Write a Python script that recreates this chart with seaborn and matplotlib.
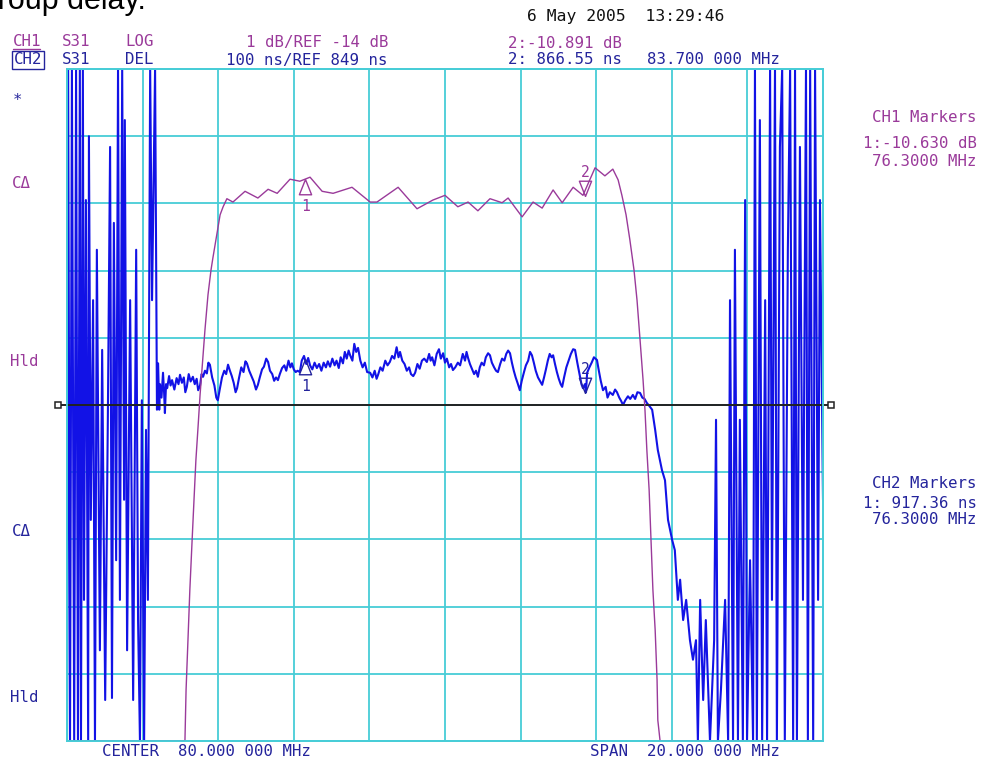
import numpy as np
import matplotlib
matplotlib.use("Agg")
import matplotlib.pyplot as plt
from matplotlib.lines import Line2D
from matplotlib.transforms import blended_transform_factory
import seaborn as sns

# ── 0. SETUP ────────────────────────────────────────────────
sns.set_style("white")
plt.rcParams["font.family"] = ["DejaVu Sans Mono"]

CYAN = "#47cdd7"
PURPLE = "#9a3a9a"
BLUE = "#1212e6"
NAVY = "#24249c"
W, H = 982, 760
FS = 11.3

# ── 1. DATA ─────────────────────────────────────────────────
center_mhz, span_mhz = 80.0, 20.0
ch1_ref_db, ch1_div_db = -14.0, 1.0
ch2_ref_ns, ch2_div_ns = 849.0, 100.0

# CH1  S31 LOG magnitude (dB)
ch1_freq = [70.00, 73.12, 73.15, 73.20, 73.25, 73.31, 73.36, 73.41, 73.47, 73.52,
            73.57, 73.65, 73.73, 73.81, 73.86, 73.97, 74.05, 74.13, 74.23, 74.39,
            74.71, 75.05, 75.32, 75.56, 75.90, 76.16, 76.43, 76.75, 77.04, 77.54,
            78.02, 78.20, 78.76, 79.26, 79.68, 80.00, 80.34, 80.61, 80.87, 81.19,
            81.51, 81.67, 82.04, 82.33, 82.57, 82.86, 83.10, 83.39, 83.65, 83.97,
            84.23, 84.44, 84.58, 84.68, 84.79, 84.89, 85.00, 85.08, 85.16, 85.24,
            85.29, 85.34, 85.40, 85.45, 85.50, 85.56, 85.61, 85.63, 85.69, 90.00]
ch1_db = [-19.0, -19.0, -18.24, -17.50, -16.75, -16.01, -15.41, -14.82, -14.30, -13.85,
          -13.48, -12.88, -12.36, -11.99, -11.81, -11.44, -11.17, -11.05, -10.93, -10.98,
          -10.82, -10.92, -10.79, -10.85, -10.64, -10.67, -10.61, -10.82, -10.85, -10.76,
          -10.98, -10.98, -10.76, -11.08, -10.95, -10.88, -11.05, -10.98, -11.11, -10.93,
          -10.99, -10.92, -11.20, -10.98, -11.07, -10.80, -10.99, -10.76, -10.88, -10.47,
          -10.59, -10.49, -10.65, -10.88, -11.17, -11.54, -11.99, -12.44, -13.03, -13.63,
          -14.07, -14.67, -15.26, -16.01, -16.75, -17.35, -18.09, -18.69, -19.0, -19.0]

# CH2  S31 group delay (ns): noisy stop band left, passband ripple, noisy stop band right
ch2_freq_left = [70.00, 70.03, 70.08, 70.13, 70.19, 70.24, 70.29, 70.34, 70.37, 70.42,
                 70.45, 70.50, 70.56, 70.58, 70.63, 70.69, 70.74, 70.79, 70.87, 70.93,
                 71.01, 71.08, 71.14, 71.19, 71.24, 71.30, 71.35, 71.40, 71.46, 71.51,
                 71.53, 71.59, 71.67, 71.75, 71.83, 71.88, 71.93, 71.98, 72.04, 72.09,
                 72.14, 72.20, 72.25, 72.33, 72.38]
ch2_delay_left = [349, 1349, 349, 1349, 349, 1349, 349, 1349, 349, 1349,
                  559, 1154, 349, 1249, 678, 1005, 349, 1080, 484, 931,
                  410, 827, 1233, 413, 1120, 618, 1349, 559, 1349, 708,
                  1273, 484, 1005, 410, 1080, 529, 349, 856, 349, 812,
                  559, 1349, 1005, 1349, 842]

ch2_freq_pass = [72.41, 72.44, 72.46, 72.50, 72.54, 72.57, 72.59, 72.62, 72.65, 72.70,
                 72.74, 72.78, 72.84, 72.90, 72.95, 72.99, 73.04, 73.09, 73.13, 73.17,
                 73.22, 73.27, 73.33, 73.38, 73.43, 73.47, 73.52, 73.56, 73.60, 73.65,
                 73.70, 73.74, 73.78, 73.84, 73.90, 73.95, 73.99, 74.04, 74.10, 74.16,
                 74.21, 74.26, 74.31, 74.36, 74.41, 74.46, 74.50, 74.55, 74.61, 74.67,
                 74.72, 74.76, 74.82, 74.88, 74.94, 75.00, 75.05, 75.10, 75.16, 75.21,
                 75.27, 75.32, 75.37, 75.43, 75.48, 75.53, 75.58, 75.63, 75.69, 75.75,
                 75.80, 75.86, 75.91, 75.95, 76.00, 76.05, 76.10, 76.16, 76.21, 76.27,
                 76.33, 76.38, 76.43, 76.49, 76.55, 76.61, 76.67, 76.73, 76.79, 76.85,
                 76.90, 76.96, 77.02, 77.08, 77.13, 77.19, 77.24, 77.30, 77.35, 77.40,
                 77.45, 77.49, 77.55, 77.60, 77.65, 77.70, 77.76, 77.82, 77.88, 77.94,
                 78.02, 78.08, 78.14, 78.19, 78.23, 78.29, 78.35, 78.42, 78.48, 78.54,
                 78.60, 78.66, 78.72, 78.77, 78.81, 78.87, 78.93, 78.99, 79.05, 79.10,
                 79.16, 79.21, 79.27, 79.33, 79.39, 79.45, 79.52, 79.58, 79.62, 79.66,
                 79.72, 79.78, 79.84, 79.89, 79.95, 80.00, 80.05, 80.11, 80.16, 80.21,
                 80.27, 80.34, 80.40, 80.47, 80.53, 80.57, 80.61, 80.66, 80.72, 80.77,
                 80.82, 80.87, 80.92, 80.97, 81.03, 81.08, 81.14, 81.19, 81.24, 81.30,
                 81.35, 81.40, 81.46, 81.51, 81.57, 81.62, 81.67, 81.72, 81.77, 81.82,
                 81.87, 81.93, 81.98, 82.03, 82.09, 82.14, 82.20, 82.25, 82.30, 82.35,
                 82.40, 82.46, 82.51, 82.57, 82.62, 82.67, 82.72, 82.77, 82.82, 82.86,
                 82.91, 82.96, 83.01, 83.06, 83.10, 83.15, 83.21, 83.27, 83.33, 83.39,
                 83.44, 83.50, 83.56, 83.61, 83.65, 83.70, 83.73, 83.76, 83.82, 83.88,
                 83.94, 84.02, 84.07, 84.12, 84.18, 84.25, 84.30, 84.36, 84.44, 84.50,
                 84.55, 84.61, 84.66, 84.71, 84.77, 84.84, 84.90, 84.97, 85.03, 85.09,
                 85.16, 85.22, 85.28, 85.34, 85.40, 85.48]
ch2_delay_pass = [911, 842, 880, 860, 897, 866, 837, 880, 874, 892,
                  878, 886, 872, 889, 880, 894, 882, 890, 868, 876,
                  895, 884, 891, 880, 888, 871, 878, 895, 891, 900,
                  896, 912, 909, 890, 878, 860, 856, 872, 890, 900,
                  895, 909, 900, 892, 882, 868, 874, 889, 905, 898,
                  914, 911, 900, 892, 884, 872, 879, 890, 902, 906,
                  918, 913, 900, 895, 885, 890, 886, 895, 904, 908,
                  900, 915, 905, 911, 902, 898, 900, 898, 915, 922,
                  910, 919, 908, 902, 912, 904, 910, 900, 912, 905,
                  914, 906, 918, 908, 915, 904, 920, 911, 928, 918,
                  930, 923, 915, 940, 928, 934, 915, 905, 912, 898,
                  897, 890, 900, 888, 894, 905, 900, 915, 908, 913,
                  922, 918, 935, 920, 928, 915, 910, 900, 905, 895,
                  892, 897, 910, 903, 915, 918, 913, 925, 915, 920,
                  908, 925, 932, 918, 926, 912, 918, 905, 910, 901,
                  905, 912, 908, 925, 915, 928, 919, 910, 902, 895,
                  900, 891, 905, 912, 908, 920, 926, 923, 912, 905,
                  900, 898, 910, 918, 915, 925, 930, 926, 912, 900,
                  890, 880, 871, 885, 898, 908, 915, 928, 923, 912,
                  900, 890, 885, 879, 890, 902, 915, 925, 920, 923,
                  910, 898, 888, 880, 876, 890, 905, 915, 925, 932,
                  931, 912, 895, 880, 874, 880, 868, 897, 905, 912,
                  920, 916, 900, 885, 871, 876, 860, 868, 864, 872,
                  868, 860, 855, 849, 856, 862, 858, 864, 858, 868,
                  867, 860, 858, 852, 848, 842]

ch2_freq_right = [85.56, 85.63, 85.74, 85.82, 85.90, 86.01, 86.08, 86.16, 86.22, 86.30,
                  86.38, 86.48, 86.56, 86.64,
                  86.69, 86.75, 86.83, 86.90, 87.01, 87.12, 87.17, 87.22, 87.30, 87.41,
                  87.49, 87.54, 87.62, 87.67, 87.75, 87.80, 87.88, 87.94, 87.99, 88.07,
                  88.15, 88.20, 88.25, 88.33, 88.39, 88.47, 88.52, 88.60, 88.65, 88.73,
                  88.78, 88.86, 88.92, 88.99, 89.07, 89.13, 89.21, 89.26, 89.31, 89.39,
                  89.47, 89.55, 89.60, 89.66, 89.74, 89.79, 89.87, 89.92, 90.00]
ch2_delay_right = [812, 782, 752, 737, 678, 648, 633, 559, 589, 529,
                   559, 499, 470, 499,
                   349, 559, 410, 529, 349, 499, 827, 349, 425, 559,
                   349, 1005, 349, 1080, 349, 827, 349, 1154, 349, 618,
                   349, 1349, 349, 1273, 349, 1005, 349, 1349, 559, 1349,
                   349, 1233, 1349, 349, 1080, 1349, 349, 1349, 349, 1233,
                   559, 1349, 349, 1349, 349, 1349, 559, 1154, 708]

ch2_freq = ch2_freq_left + ch2_freq_pass + ch2_freq_right
ch2_delay = ch2_delay_left + ch2_delay_pass + ch2_delay_right

marker_freq = [76.3, 83.7]
marker_db = [-10.630, -10.891]
marker_ns = [917.36, 866.55]

# ── 2. FIGURE / AXES ────────────────────────────────────────
fig = plt.figure(figsize=(W / 100, H / 100), dpi=100)
ax = fig.add_axes([67 / W, 19 / H, 756 / W, 672 / H])
ax2 = ax.twinx()

lo_f, hi_f = center_mhz - span_mhz / 2, center_mhz + span_mhz / 2
ns_lo, ns_hi = ch2_ref_ns - 5 * ch2_div_ns, ch2_ref_ns + 5 * ch2_div_ns
db_lo, db_hi = ch1_ref_db - 5 * ch1_div_db, ch1_ref_db + 5 * ch1_div_db

# traces (clipped to the screen like the analyzer does)
sns.lineplot(x=ch2_freq, y=np.clip(ch2_delay, ns_lo, ns_hi), sort=False,
             estimator=None, color=BLUE, lw=1.5, ax=ax, legend=False)
sns.lineplot(x=ch1_freq, y=np.clip(ch1_db, db_lo, db_hi), sort=False,
             estimator=None, color=PURPLE, lw=1.0, ax=ax2, legend=False)

ax.set_xlim(lo_f, hi_f)
ax.set_ylim(ns_lo, ns_hi)
ax2.set_ylim(db_lo, db_hi)
ax.set_xticks(np.linspace(lo_f, hi_f, 11))
ax.set_yticks(np.linspace(ns_lo, ns_hi, 11))
ax.grid(True, color=CYAN, lw=1.3)
ax.set_axisbelow(True)
for a in (ax, ax2):
    a.tick_params(length=0, labelbottom=False, labelleft=False, labelright=False)
    a.set_xlabel("")
    a.set_ylabel("")
    for sp in a.spines.values():
        sp.set_color(CYAN)
        sp.set_linewidth(1.3)
ax2.set_yticks([])

# reference line with end brackets
ax.axhline(ch2_ref_ns, xmin=-0.012, xmax=1.01, color="#222222", lw=1.4,
           clip_on=False, zorder=5)
tr = blended_transform_factory(ax.transAxes, ax.transData)
ax.plot([-0.012, 1.01], [ch2_ref_ns] * 2, ls="none", marker="s", ms=4.5,
        mfc="white", mec="#222222", mew=1.1, transform=tr, clip_on=False, zorder=6)

# marker triangles (apex on the trace)
tri_up = [(0, 0), (-0.4, -1), (0.4, -1), (0, 0)]
tri_dn = [(0, 0), (-0.4, 1), (0.4, 1), (0, 0)]
for a, vals, col in ((ax2, marker_db, PURPLE), (ax, marker_ns, NAVY)):
    a.plot(marker_freq[0], vals[0], marker=tri_up, ms=22, mfc="none", mec=col, mew=1.0, zorder=7)
    a.plot(marker_freq[1], vals[1], marker=tri_dn, ms=22, mfc="none", mec=col, mew=1.0, zorder=7)
    a.annotate("1", (marker_freq[0], vals[0]), xytext=(0, -20), textcoords="offset points",
               ha="center", va="center", color=col, fontsize=10.5)
    a.annotate("2", (marker_freq[1], vals[1]), xytext=(0, 17), textcoords="offset points",
               ha="center", va="center", color=col, fontsize=10.5)


# ── 3. SCREEN ANNOTATIONS ───────────────────────────────────
def txt(x, y, s, color, ha="left", **kw):
    kw.setdefault("fontsize", FS)
    return fig.text(x / W, 1 - y / H, s, color=color, ha=ha, va="center", **kw)


# caption of the surrounding document, cut by the screenshot edge
fig.text(-26 / W, 1 - 9 / H, "Group delay.", color="black", fontsize=22,
         family="Liberation Sans", ha="left", va="baseline")
txt(527, 17, "6 May 2005  13:29:46", "#111111", fontsize=11.8)

txt(13, 42, "CH1", PURPLE)
fig.add_artist(Line2D([13 / W, 40 / W], [1 - 49 / H] * 2, color=PURPLE, lw=1))
txt(62, 42, "S31", PURPLE)
txt(125, 42, "LOG", PURPLE)
txt(388, 42, "1 dB/REF -14 dB", PURPLE, ha="right")
txt(508, 43, "2:-10.891 dB", PURPLE)

txt(14, 60, "CH2", NAVY, bbox=dict(boxstyle="square,pad=0.1", fc="none", ec=NAVY, lw=1))
txt(62, 60, "S31", NAVY)
txt(125, 60, "DEL", NAVY)
txt(388, 60, "100 ns/REF 849 ns", NAVY, ha="right")
txt(508, 60, "2: 866.55 ns", NAVY)
txt(647, 60, "83.700 000 MHz", NAVY)

txt(977, 118, "CH1 Markers", PURPLE, ha="right")
txt(977, 143, "1:-10.630 dB", PURPLE, ha="right")
txt(977, 162, "76.3000 MHz", PURPLE, ha="right")
txt(977, 483, "CH2 Markers", NAVY, ha="right")
txt(977, 503, "1: 917.36 ns", NAVY, ha="right")
txt(977, 520, "76.3000 MHz", NAVY, ha="right")

txt(13, 100, "*", NAVY)
txt(12, 183, "C\u0394", PURPLE)
txt(10, 361, "Hld", PURPLE)
txt(12, 531, "C\u0394", NAVY)
txt(10, 697, "Hld", NAVY)

txt(102, 752, "CENTER  80.000 000 MHz", NAVY)
txt(590, 752, "SPAN  20.000 000 MHz", NAVY)

plt.savefig("out.png", dpi=100)
